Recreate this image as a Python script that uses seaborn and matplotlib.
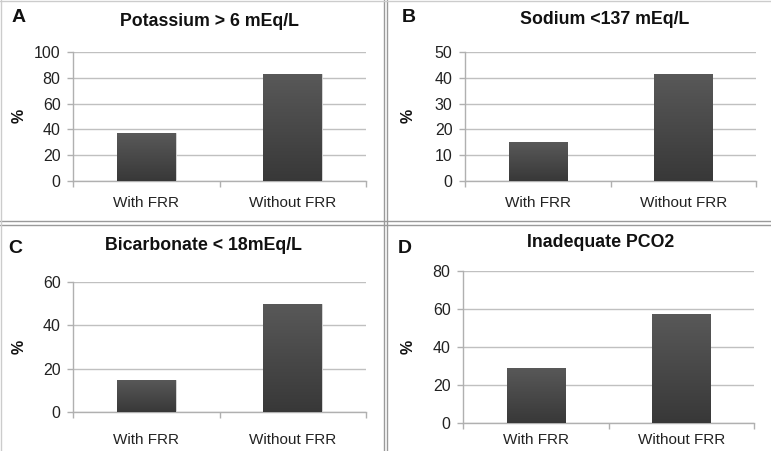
import numpy as np
import pandas as pd
import matplotlib
matplotlib.use("Agg")
import matplotlib.pyplot as plt
from matplotlib.lines import Line2D
import seaborn as sns

# Data
groups = ["With FRR", "Without FRR"]
potassium = [37, 83]
sodium = [15, 41.5]
bicarbonate = [15, 50]
pco2 = [29, 57.5]

panel_letters = ["A", "B", "C", "D"]
panel_titles = ["Potassium > 6 mEq/L", "Sodium <137 mEq/L",
                "Bicarbonate < 18mEq/L", "Inadequate PCO2"]
y_limits = [100, 50, 60, 80]
y_steps = [20, 10, 20, 20]

sns.set_theme(style="white")
plt.rcParams["font.family"] = ["Liberation Sans", "DejaVu Sans"]

fig = plt.figure(figsize=(7.71, 4.51), dpi=100)
W, H = 771, 451


def px_axes(left, top, right, bottom):
    return fig.add_axes([left / W, 1 - bottom / H, (right - left) / W, (bottom - top) / H])


# axes boxes in pixels: left, top, right, bottom
boxes = [(73, 52, 366, 181), (465, 52, 756, 181),
         (73, 282, 366, 412), (463, 271, 754, 423)]
title_pos = [(209, 21), (605, 20), (203, 245), (601, 242)]
letter_pos = [(12, 18), (402, 18), (8, 248), (398, 248)]
ylabel_pos = [(19, 116), (408, 116), (19, 347), (408, 347)]
xlabel_pad = [10.5, 10.5, 15, 7.5]

series = [potassium, sodium, bicarbonate, pco2]
grad = np.linspace(0, 1, 256).reshape(-1, 1)
cmap = matplotlib.colors.LinearSegmentedColormap.from_list("bar", ["#383838", "#595959"])

for i, vals in enumerate(series):
    ax = px_axes(*boxes[i])
    df = pd.DataFrame({"group": groups, "value": vals})
    sns.barplot(data=df, x="group", y="value", ax=ax, color="#474747",
                width=0.4, edgecolor="#dddddd", linewidth=0.6, zorder=3)
    ax.set_xlim(-0.5, 1.5)
    ax.set_ylim(0, y_limits[i])
    ax.set_yticks(np.arange(0, y_limits[i] + 1, y_steps[i]))
    ax.set_xlabel("")
    ax.set_ylabel("")

    # gradient fill on each bar
    for bar in ax.patches:
        x0, w, h = bar.get_x(), bar.get_width(), bar.get_height()
        im = ax.imshow(grad, extent=[x0, x0 + w, 0, h], origin="lower",
                       cmap=cmap, aspect="auto", zorder=3.5)
        im.set_clip_path(bar)
    ax.set_xlim(-0.5, 1.5)
    ax.set_ylim(0, y_limits[i])

    ax.yaxis.grid(True, color="#c0c0c0", linewidth=1.0)
    ax.set_axisbelow(True)
    for s in ["top", "right"]:
        ax.spines[s].set_visible(False)
    for s in ["left", "bottom"]:
        ax.spines[s].set_color("#b0b0b0")
        ax.spines[s].set_linewidth(1.0)

    ax.set_xticks([-0.5, 0.5, 1.5], minor=True)
    ax.tick_params(axis="x", which="minor", bottom=True, length=4, color="#b0b0b0", width=1)
    ax.tick_params(axis="x", which="major", length=0, pad=xlabel_pad[i], labelsize=11,
                   labelcolor="#222222")
    ax.tick_params(axis="y", left=True, length=4, color="#b0b0b0", width=1, pad=5,
                   labelsize=11.5, labelcolor="#222222")

    fig.text(title_pos[i][0] / W, 1 - title_pos[i][1] / H, panel_titles[i],
             ha="center", va="center", fontsize=12.8, fontweight="bold", color="#111111")
    fig.text(letter_pos[i][0] / W, 1 - letter_pos[i][1] / H, panel_letters[i],
             ha="left", va="center", fontsize=14, fontweight="bold", color="#111111")
    fig.text(ylabel_pos[i][0] / W, 1 - ylabel_pos[i][1] / H, "%", rotation=90,
             ha="center", va="center", fontsize=11.5, fontweight="bold", color="#111111")

# panel separators and outer frame
sep = "#9a9a9a"
for x in [384, 387]:
    fig.add_artist(Line2D([x / W, x / W], [0, 1], color=sep, linewidth=1.0))
for y in [221, 225]:
    fig.add_artist(Line2D([0, 1], [1 - y / H, 1 - y / H], color=sep, linewidth=1.0))
fig.add_artist(Line2D([0.5 / W, 0.5 / W], [0, 1], color="#cccccc", linewidth=1.0))
fig.add_artist(Line2D([0, 1], [1 - 0.5 / H, 1 - 0.5 / H], color="#cccccc", linewidth=1.0))

fig.savefig("out.png", dpi=100, facecolor="white")
